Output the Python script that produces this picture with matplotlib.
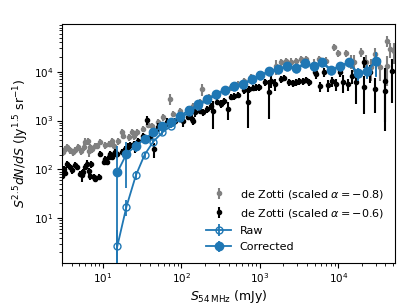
import matplotlib
matplotlib.use("Agg")
import matplotlib.pyplot as plt

# de Zotti counts scaled with alpha = -0.8 (grey)
grey_s = [3.06, 3.26, 3.46, 3.78, 4.13, 4.38, 4.78, 5.22, 5.71, 5.88, 6.42, 6.61, 6.81, 7.22,
          7.89, 8.38, 9.15, 10.6, 11.9, 12.3, 13.0, 13.8, 15.6, 17.5, 18.0, 21.6, 23.6, 25.0,
          27.3, 32.6, 37.8, 42.5, 50.7, 58.7, 72.2, 78.9, 97.1, 120, 142, 175, 186, 222, 289,
          346, 425, 522, 623, 766, 971, 1267, 1604, 1859, 2155, 2499, 2897, 3355, 3890, 4925,
          5710, 7020, 8890, 10000, 12600, 14700, 16000, 19700, 22900, 26500, 29000, 33600,
          41300, 41300, 45100, 50700]
grey_n = [226, 261, 286, 249, 226, 249, 286, 237, 286, 363, 380, 237, 286, 261,
          300, 300, 363, 315, 330, 330, 380, 300, 380, 580, 480, 459, 580, 480,
          580, 670, 809, 770, 930, 1180, 2760, 1360, 1570, 1720, 1980, 2400, 4420, 3030, 3490,
          4020, 4850, 5590, 6440, 7780, 8970, 10300, 13100, 15800, 16600, 15800, 16600, 18200,
          18200, 14300, 18200, 16600, 32100, 24200, 24200, 16600, 15800, 25400, 15800, 12500,
          23100, 12500, 42600, 13100, 29200, 26600]
grey_err = [35, 40, 45, 40, 35, 40, 45, 40, 45, 80, 60, 60, 45, 40,
            45, 45, 55, 50, 50, 50, 60, 45, 60, 85, 70, 70, 85, 75,
            90, 100, 120, 120, 140, 180, 700, 200, 250, 260, 300, 360, 1300, 450, 520,
            600, 750, 850, 1000, 1200, 1400, 1600, 4500, 2500, 2500, 3000, 2500, 2800,
            2800, 4000, 3000, 3000, 5000, 4000, 4000, 5000, 6000, 5000, 6000, 6000,
            7000, 6000, 10000, 8000, 10000, 12000]

# de Zotti counts scaled with alpha = -0.6 (black)
black_s = [2.98, 3.16, 3.26, 3.46, 3.78, 4.01, 4.38, 4.64, 5.07, 5.38, 5.54, 5.88, 6.23, 6.61,
           6.81, 7.00, 7.66, 7.89, 8.89, 9.15, 10.3, 10.6, 11.3, 11.9, 12.3, 13.0, 13.8, 14.3,
           15.1, 17.5, 19.2, 20.9, 22.2, 25.0, 25.7, 28.1, 32.6, 36.7, 40.1, 45.1, 50.7, 58.7,
           66.1, 72.2, 83.7, 97.1, 106, 123, 138, 142, 151, 175, 191, 215, 236, 250, 289, 316,
           346, 389, 425, 464, 522, 623, 701, 722, 813, 889, 971, 1159, 1304, 1384, 1557, 1859,
           2030, 2355, 2651, 2897, 3162, 3559, 3890, 4250, 5074, 5226, 5890, 6620, 7450, 8390,
           9440, 10600, 11600, 13400, 15100, 17000, 21500, 21500, 25700, 29800, 38900, 38900,
           47800]
black_n = [72, 101, 84, 128, 111, 96, 122, 111, 80, 76, 87, 111, 128, 92,
           72, 128, 70, 63, 70, 206, 141, 163, 141, 179, 206, 179, 206, 226,
           206, 226, 261, 286, 315, 330, 300, 380, 480, 1020, 459, 261, 736, 770,
           930, 850, 978, 1070, 978, 1180, 1070, 978, 1500, 1570, 1500, 1720, 1980, 1570, 2400, 2180,
           2510, 1720, 3030, 3180, 3330, 4200, 2400, 4420, 4630, 4850, 4850, 6140, 3850, 6440, 5590, 7080,
           7430, 6140, 5860, 6140, 6440, 6440, 6750, 6140, 9850, 8970, 5090, 9850, 5330, 6440,
           5590, 9850, 6140, 5590, 8150, 6140, 15800, 4850, 9850, 4420, 6440, 4020,
           10300]
black_err = [10, 15, 12, 20, 15, 14, 18, 16, 12, 20, 13, 16, 25, 14,
             11, 20, 10, 9, 10, 30, 20, 22, 20, 25, 30, 26, 30, 32,
             35, 30, 35, 60, 45, 50, 80, 55, 70, 230, 70, 90, 150, 120,
             200, 130, 150, 150, 250, 170, 200, 150, 300, 220, 250, 300, 300, 900, 350, 400,
             400, 700, 450, 500, 500, 650, 1700, 700, 700, 750, 750, 1000, 2800, 1800, 1500, 1100,
             1100, 1000, 1000, 1000, 1000, 1000, 1000, 1000, 1500, 2000, 1200, 2000, 1500, 1500,
             1500, 2000, 2500, 1500, 2500, 4000, 4000, 3500, 4000, 3000, 5500, 3400,
             8000]

# this work, 54 MHz
bin_s = [15.3, 20.0, 26.4, 34.0, 44.0, 57.5, 74.5, 97, 126, 164, 213, 277, 360, 466, 605,
         785, 1020, 1320, 1710, 2220, 2880, 3740, 4850, 6290, 8160, 10600, 13700, 17800,
         23100, 30000]
raw_n = [2.68, 17.3, 76, 198, 371, 573, 781, 1100, 1500, 2000, 2600, 3350, 4050, 4750, 5300,
         6750, 8150, 9900, 10900, 12700, 11200, 14200, 12700, 14900, 10500, 12700, 14900,
         9000, 10000, 16000]
raw_err = [3, 6, 15, 30, 45, 60, 80, 100, 120, 150, 180, 220, 260, 300, 350,
           420, 500, 600, 700, 850, 900, 1100, 1200, 1500, 1500, 2000, 2500,
           2500, 3000, 8000]
corr_n = [87, 206, 305, 418, 573, 761, 945, 1253, 1641, 2148, 2758, 3540, 4276, 5020, 5600,
          7080, 8550, 10330, 11360, 13280, 11740, 14860, 13280, 15600, 10990, 13280, 15600,
          9400, 10480, 16800]
corr_err = [220, 165, 80, 70, 80, 90, 100, 120, 150, 180, 220, 260, 300, 350, 400,
            480, 560, 650, 750, 900, 950, 1200, 1300, 1600, 1600, 2100, 2600,
            2600, 3200, 9000]

fig = plt.figure(figsize=(4.15, 3.07), dpi=100)
ax = fig.add_axes([0.149, 0.143, 0.803, 0.779])

ax.errorbar(grey_s, grey_n, yerr=grey_err, fmt="o", color="grey", ms=3, elinewidth=1.5,
            capsize=0, label=r"de Zotti (scaled $\alpha=-0.8$)", zorder=2)
ax.errorbar(black_s, black_n, yerr=black_err, fmt="o", color="k", ms=3, elinewidth=1.5,
            capsize=0, label=r"de Zotti (scaled $\alpha=-0.6$)", zorder=3)
ax.errorbar(bin_s, raw_n, yerr=raw_err, fmt="o-", color="C0", mfc="none", ms=5, lw=1.3,
            capsize=0, label="Raw", zorder=4)
ax.errorbar(bin_s, corr_n, yerr=corr_err, fmt="o-", color="C0", ms=6, lw=1.3,
            capsize=0, label="Corrected", zorder=5)

ax.set_xscale("log")
ax.set_yscale("log")
ax.set_xlim(3, 5.3e4)
ax.set_ylim(1.2, 9.5e4)
ax.tick_params(labelsize=7.5, pad=2.5)
ax.set_xlabel(r"$S_{54\,\mathrm{MHz}}$ (mJy)", fontsize=9, labelpad=2)
ax.set_ylabel(r"$S^{2.5}dN/dS$ (Jy$^{1.5}$ sr$^{-1}$)", fontsize=9, labelpad=2)
ax.legend(loc="lower right", frameon=False, fontsize=8, handlelength=2.2,
          borderaxespad=0.6, labelspacing=0.55)

fig.savefig("out.png", dpi=100)
